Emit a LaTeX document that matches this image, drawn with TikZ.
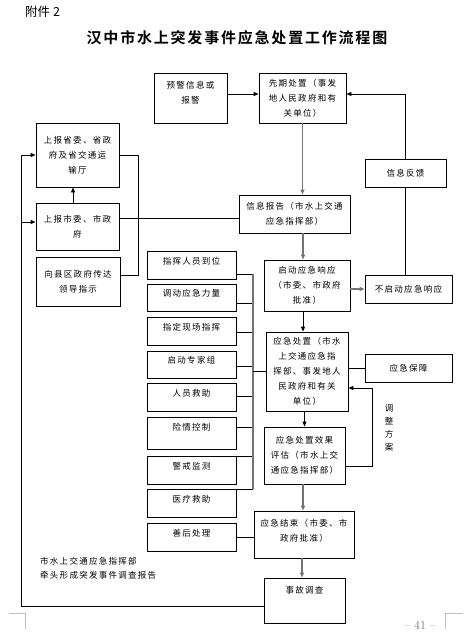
\documentclass[tikz,border=0pt]{standalone}
\usepackage{fontspec}
\usetikzlibrary{arrows.meta}
\newfontfamily\cjk[LetterSpace=15]{Noto Sans CJK SC}
\newfontfamily\cjktitle[LetterSpace=12]{Noto Sans CJK SC Bold}
\newfontfamily\cjkplain{Noto Sans CJK SC}

\tikzset{
  box/.style={draw, line width=0.9pt, align=center, inner sep=1pt,
    font=\cjk\fontsize{8.5}{15}\selectfont},
  boxwh/.style 2 args={box, minimum width=#1pt, minimum height=#2pt},
  task/.style={boxwh={89}{28}, text depth=9pt},
  link/.style={line width=0.9pt},
  arr/.style={link, -{Triangle[length=5pt,width=4pt]}},
  garr/.style={arr, draw=black!55, line width=1.3pt},
  busline/.style={draw=black!55, line width=1.3pt},
  cropmark/.style={draw=black!25, line width=0.8pt}
}

\begin{document}
\begin{tikzpicture}[x=1pt,y=-1pt]
  \useasboundingbox (0,0) rectangle (472,640);

  % headings
  \node[font=\cjkplain\fontsize{12.5}{14}\selectfont, anchor=west, inner sep=0pt] (annex) at (25,12) {附件 2};
  \node[font=\cjktitle\fontsize{15}{18}\selectfont, inner sep=0pt] (title) at (237,38) {汉中市水上突发事件应急处置工作流程图};

  % main column
  \node[boxwh={73}{50}, text depth=12pt] (warn) at (190.5,98) {预警信息或\\报警};
  \node[boxwh={87}{50}] (early) at (302.5,98) {先期处置（事发\\地人民政府和有\\关单位）};
  \node[boxwh={81}{28}] (feedback) at (405.5,173) {信息反馈};
  \node[boxwh={111}{38}] (report) at (294.5,214) {信息报告（市水上交通\\应急指挥部）};
  \node[boxwh={86}{51}] (start) at (307,285.5) {启动应急响应\\（市委、市政府\\批准）};
  \node[boxwh={87}{28}] (nostart) at (408.5,289) {不启动应急响应};
  \node[boxwh={82}{79}] (handle) at (307,371.5) {应急处置（市水\\上交通应急指\\挥部、事发地人\\民政府和有关\\单位）};
  \node[boxwh={87}{28}] (guar) at (408.5,368) {应急保障};
  \node[boxwh={81}{57}] (eval) at (304.5,455.5) {应急处置效果\\评估（市水上交\\通应急指挥部）};
  \node[boxwh={100}{47}, text depth=9pt] (end) at (304,534.5) {应急结束（市委、市\\政府批准）};
  \node[boxwh={81}{45}, text depth=22pt] (invest) at (304.5,600.5) {事故调查};

  % left column
  \node[boxwh={83}{64}] (prov) at (77.5,155) {上报省委、省政\\府及省交通运\\输厅};
  \node[boxwh={83}{47}] (city) at (77.5,226.5) {上报市委、市政\\府};
  \node[boxwh={84}{49}] (county) at (78,281.5) {向县区政府传达\\领导指示};

  % tasks
  \node[task] (t1) at (191.5,265) {指挥人员到位};
  \node[task, minimum height=27pt] (t2) at (191.5,297.5) {调动应急力量};
  \node[task] (t3) at (191.5,331) {指定现场指挥};
  \node[task, minimum height=27pt] (t4) at (191.5,364.5) {启动专家组};
  \node[task] (t5) at (191.5,397) {人员救助};
  \node[task, minimum height=32pt, text depth=12pt] (t6) at (191.5,433) {险情控制};
  \node[task] (t7) at (191.5,470) {警戒监测};
  \node[task] (t8) at (191.5,503) {医疗救助};
  \node[task] (t9) at (191.5,537) {善后处理};

  \node[font=\cjk\fontsize{8.5}{13}\selectfont, align=center, inner sep=0pt] (adj) at (389,427.5) {调\\整\\方\\案};
  \node[font=\cjk\fontsize{8.5}{14}\selectfont, align=left, anchor=west, inner sep=0pt] (note) at (40,568) {市水上交通应急指挥部\\牵头形成突发事件调查报告};
  \node[font=\fontsize{12}{14}\selectfont, text=black!55, inner sep=0pt] (page) at (420,625) {– 41 –};

  \coordinate (rail) at (21,0);
  \coordinate (jn) at (138,275);
  \coordinate (bus) at (253,0);
  \coordinate (turn) at (372,466);

  % connectors
  \draw[arr] ([yshift=4pt]warn.east) -- ([yshift=4pt]early.west);
  \draw[garr] (early.south) -- (early.south |- report.north);
  \draw[garr] ([xshift=8.5pt]report.south) -- ([xshift=8.5pt]report.south |- start.north);
  \draw[garr] (start.east |- nostart.west) -- (nostart.west);
  \draw[link] (feedback.south) -- (feedback.south |- nostart.north);
  \draw[arr] (feedback.north) |- ([yshift=4pt]early.east);
  \draw[arr] ([xshift=-4pt]start.south) -- ([xshift=-4pt]start.south |- handle.north);
  \draw[link] (handle.east |- guar.west) -- (guar.west);
  \draw[arr] (eval.north |- handle.south) -- (eval.north);
  \draw[arr] ([yshift=-10.5pt]eval.east) -- (turn) |- ([yshift=-16.5pt]handle.east);
  \draw[garr] ([xshift=-1.5pt]eval.south) -- ([xshift=-1.5pt]eval.south |- end.north);
  \draw[garr] ([xshift=-2pt]end.south) -- ([xshift=-2pt]end.south |- invest.north);
  \draw[link] (t9.east) -- (t9.east -| end.west);

  % tasks to the bus
  \foreach \t/\s in {t1/-9, t2/-5.5, t3/-1, t4/-1.5, t5/1, t6/6, t7/14, t8/14}
    \draw[link] ([yshift=\s pt]\t.east) -- ([yshift=\s pt]\t.east -| bus);
  \draw[busline] ([yshift=-9pt]t1.east -| bus) -- ([yshift=14pt]t8.east -| bus);
  \draw[link] (bus |- handle.west) -- (handle.west);

  % left side
  \draw[arr] ([xshift=-4.5pt]city.north) -- ([xshift=-4.5pt]prov.south);
  \draw[link] (prov.east) -| (jn) -- (jn -| county.east);
  \draw[link] ([yshift=8.5pt]city.east) -- ([yshift=8.5pt]city.east -| report.west);
  \draw[arr] ([yshift=-5.5pt]invest.west) -| (rail |- prov.west) -- (prov.west);
  \draw[arr] ([yshift=4.5pt]city.west -| rail) -- ([yshift=4.5pt]city.west);

  % page corners
  \draw[cropmark] (9,613) -- (25,613) -- (25,629);
  \draw[cropmark] (445,629) -- (445,613) -- (463,613);
\end{tikzpicture}
\end{document}
